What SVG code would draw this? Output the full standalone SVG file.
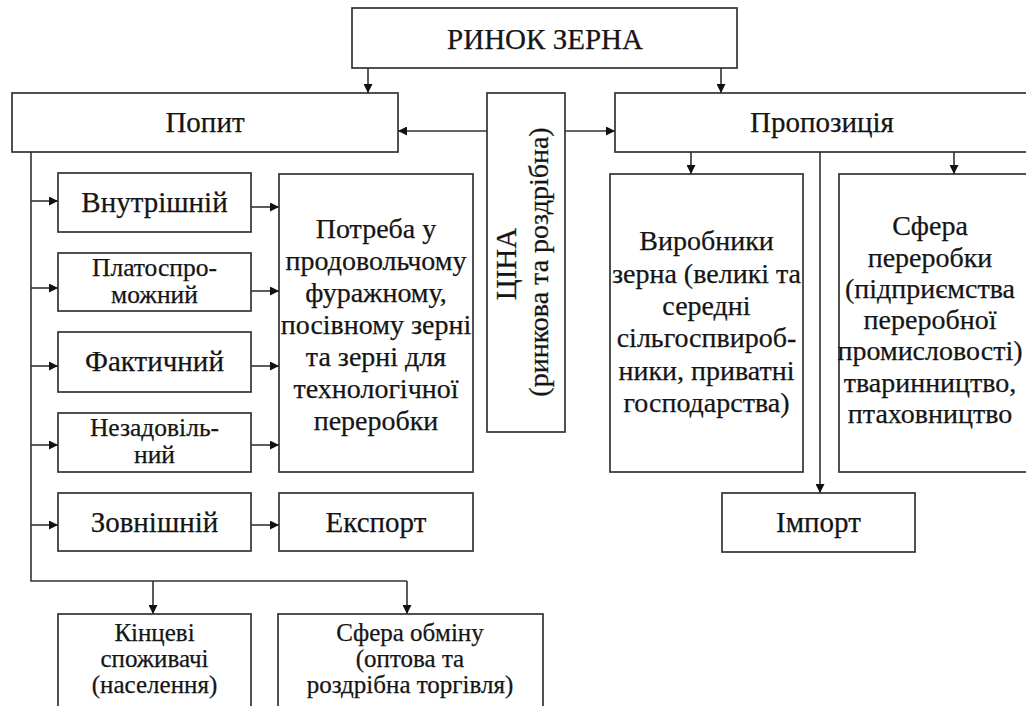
<svg xmlns="http://www.w3.org/2000/svg" width="1026" height="706" viewBox="0 0 1026 706">
<defs>
<marker id="ah" viewBox="0 0 10 10" refX="10" refY="5" markerWidth="9" markerHeight="9" markerUnits="userSpaceOnUse" orient="auto">
<path d="M0,0 L10,5 L0,10 z" fill="#111"/>
</marker>
<style>
.b{fill:#fff;stroke:#333;stroke-width:1.7}
.t{font-size:28px;fill:#151515;stroke:#151515;stroke-width:0.25;text-anchor:middle}
.l{font-size:29px}
.s{font-size:25.5px}
.xs{font-size:25px}
.c{fill:none;stroke:#333;stroke-width:1.6}
.a{fill:none;stroke:#333;stroke-width:1.6;marker-end:url(#ah)}
</style>
</defs>
<rect width="1026" height="706" fill="#fff"/>
<g id="connectors">
<path class="a" d="M368,68 V93"/>
<path class="a" d="M721,68 V93"/>
<path class="a" d="M487,131 H398"/>
<path class="a" d="M565,131 H615"/>
<path class="a" d="M691,152 V174"/>
<path class="a" d="M954,152 V174"/>
<path class="a" d="M820,152 V493"/>
<path class="c" d="M31,152 V581 H407"/>
<path class="a" d="M31,201 H58"/>
<path class="a" d="M31,288 H58"/>
<path class="a" d="M31,366 H58"/>
<path class="a" d="M31,445 H58"/>
<path class="a" d="M31,525 H58"/>
<path class="a" d="M251,207 H279"/>
<path class="a" d="M251,291 H279"/>
<path class="a" d="M251,366 H279"/>
<path class="a" d="M251,445 H279"/>
<path class="a" d="M251,525 H279"/>
<path class="a" d="M153,581 V614"/>
<path class="a" d="M407,581 V614"/>
</g>
<g font-family="Liberation Serif, DejaVu Serif, serif">
<g id="rynok"><rect class="b" x="352" y="8" width="385" height="60"/><text class="t l" x="545" y="49">РИНОК ЗЕРНА</text></g>
<g id="popyt"><rect class="b" x="12" y="93" width="386" height="59"/><text class="t l" x="205" y="132">Попит</text></g>
<g id="propozytsiia"><rect class="b" x="615" y="93" width="420" height="59"/><text class="t l" x="822" y="132">Пропозиція</text></g>
<g id="tsina"><rect class="b" x="487" y="93" width="78" height="339"/>
<text class="t l" transform="translate(516,264) rotate(-90)">ЦІНА</text>
<text class="t" transform="translate(548,262) rotate(-90)">(ринкова та роздрібна)</text></g>
<g id="vnutrishnii"><rect class="b" x="58" y="173" width="193" height="59"/><text class="t l" x="154.5" y="212">Внутрішній</text></g>
<g id="platospromozhnyi"><rect class="b" x="58" y="253" width="193" height="58"/><text class="t s" x="154.5" y="276">Платоспро-</text><text class="t s" x="154.5" y="303">можний</text></g>
<g id="faktychnyi"><rect class="b" x="58" y="332" width="193" height="60"/><text class="t l" x="154.5" y="371">Фактичний</text></g>
<g id="nezadovilnyi"><rect class="b" x="58" y="413" width="193" height="59"/><text class="t s" x="154.5" y="436">Незадовіль-</text><text class="t s" x="154.5" y="463">ний</text></g>
<g id="zovnishnii"><rect class="b" x="58" y="493" width="193" height="58"/><text class="t l" x="154.5" y="532">Зовнішній</text></g>
<g id="potreba"><rect class="b" x="279" y="174" width="194" height="298"/>
<text class="t" x="376" y="238">Потреба у</text>
<text class="t" x="376" y="270">продовольчому</text>
<text class="t" x="376" y="302">фуражному,</text>
<text class="t" x="376" y="334">посівному зерні</text>
<text class="t" x="376" y="366">та зерні для</text>
<text class="t" x="376" y="398">технологічної</text>
<text class="t" x="376" y="430">переробки</text></g>
<g id="eksport"><rect class="b" x="279" y="493" width="194" height="58"/><text class="t l" x="376" y="532">Експорт</text></g>
<g id="kintsevi"><rect class="b" x="58" y="614" width="193" height="100"/>
<text class="t xs" x="154.5" y="641">Кінцеві</text>
<text class="t xs" x="154.5" y="667">споживачі</text>
<text class="t xs" x="154.5" y="693">(населення)</text></g>
<g id="sfera-obminu"><rect class="b" x="278" y="614" width="265" height="100"/>
<text class="t xs" x="410" y="641">Сфера обміну</text>
<text class="t xs" x="410" y="667">(оптова та</text>
<text class="t xs" x="410" y="693">роздрібна торгівля)</text></g>
<g id="vyrobnyky"><rect class="b" x="610" y="174" width="193" height="298"/>
<text class="t" x="706.5" y="250">Виробники</text>
<text class="t" x="706.5" y="283">зерна (великі та</text>
<text class="t" x="706.5" y="315">середні</text>
<text class="t" x="706.5" y="347">сільгоспвироб-</text>
<text class="t" x="706.5" y="380">ники, приватні</text>
<text class="t" x="706.5" y="412">господарства)</text></g>
<g id="sfera-pererobky"><rect class="b" x="839" y="174" width="196" height="298"/>
<text class="t" x="930" y="235">Сфера</text>
<text class="t" x="930" y="267">переробки</text>
<text class="t" x="930" y="298">(підприємства</text>
<text class="t" x="930" y="329">переробної</text>
<text class="t" x="930" y="360">промисловості)</text>
<text class="t" x="930" y="392">тваринництво,</text>
<text class="t" x="930" y="423">птаховництво</text></g>
<g id="import"><rect class="b" x="722" y="493" width="193" height="59"/><text class="t l" x="818.5" y="532">Імпорт</text></g>
</g>
</svg>
